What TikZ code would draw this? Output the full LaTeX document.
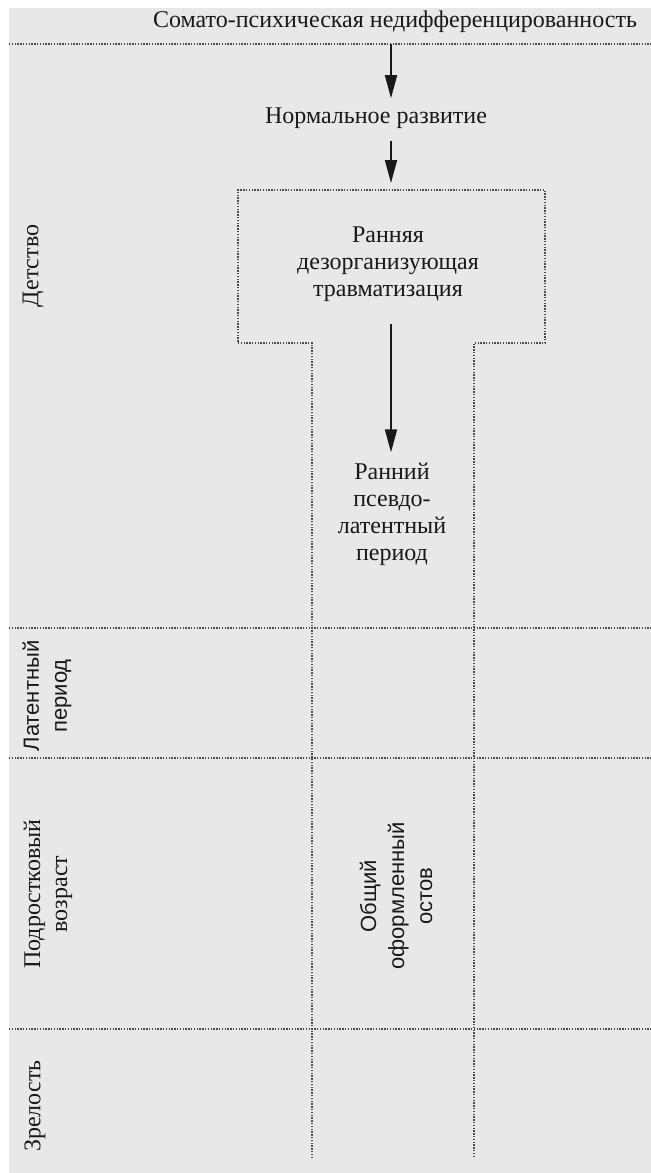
\documentclass[tikz,border=0pt]{standalone}
\usepackage{fontspec}
\setmainfont{Liberation Serif}
\newfontfamily\labelsans{Liberation Sans}
\usetikzlibrary{arrows.meta}
\tikzset{
  dotline/.style={gray!60!black, line width=0.75pt, dash pattern=on 0.7pt off 0.7pt},
  arr/.style={-{Triangle[length=11.5pt,width=6pt]}, line width=0.9pt, black!90},
  txt/.style={text=black!90, font=\fontsize{12}{13.5}\selectfont, align=center, inner sep=0pt},
  vlabel/.style={txt, rotate=90},
  sans/.style={txt, font=\labelsans\fontsize{11}{14}\selectfont}
}
\begin{document}
\begin{tikzpicture}[x=0.5pt,y=-0.5pt]
  % scanned page
  \fill[black!9] (9,8) rectangle (651,1173);
  \useasboundingbox (0,0) rectangle (651,1173);
  % horizontal lines between the ages
  \foreach \y in {44,628,758,1029}
    \draw[dotline] (9,\y) -- (651,\y);
  % trauma box, open below into the middle column
  \draw[dotline] (312,1158) -- (312,343) -- (238,343) -- (238,190)
    -- (545,190) -- (545,343) -- (474,343) -- (474,1158);
  \coordinate (top) at (391,44);
  \coordinate (boxtop) at (391,190);
  % stages
  \node[txt] (soma) at (395,22) {Сомато-психическая недифференцированность};
  \node[txt] (normal) at (376,118) {Нормальное развитие};
  \node[txt] (trauma) at (388,264) {Ранняя\\дезорганизующая\\травматизация};
  \node[txt] (pseudo) at (392,514) {Ранний\\псевдо-\\латентный\\период};
  \node[sans, rotate=90] (core) at (396,896) {Общий\\оформленный\\остов};
  % ages on the left
  \node[vlabel] (child) at (33,266) {Детство};
  \node[sans, rotate=90] (latent) at (47,696) {Латентный\\период};
  \node[vlabel] (teen) at (48,894) {Подростковый\\возраст};
  \node[vlabel] (mature) at (35,1106) {Зрелость};
  % arrows
  \draw[arr, shorten >=4.5pt] (top) -- (top |- normal.north);
  \draw[arr, shorten <=6pt, shorten >=3.5pt] (top |- normal.south) -- (boxtop);
  \draw[arr, shorten <=11pt, shorten >=5pt] (top |- trauma.south) -- (top |- pseudo.north);
\end{tikzpicture}
\end{document}
